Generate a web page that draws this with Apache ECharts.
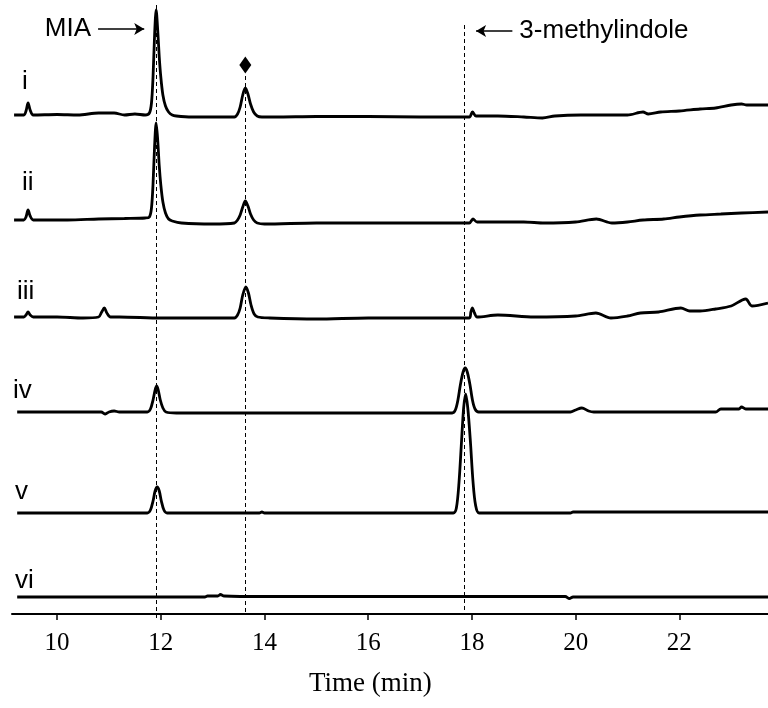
<!DOCTYPE html>
<html>
<head>
<meta charset="utf-8">
<script src="https://cdn.jsdelivr.net/npm/echarts@6/dist/echarts.min.js"></script>
<style>
  html, body { margin: 0; padding: 0; background: #fff; }
  #chart { width: 768px; height: 708px; }
</style>
</head>
<body>
<div id="chart"></div>
<script>
// retention time ticks (min)
var timeTicks = [10, 12, 14, 16, 18, 20, 22];
var traceNames = ["i", "ii", "iii", "iv", "v", "vi"];
// vertical offset of each trace's baseline (arbitrary units)
var traceOffsets = [499, 394, 297, 202, 101, 17];

// [time, signal above baseline]
var traceI = [
  [9.17, 0], [9.36, 0], [9.4, 4], [9.44, 12], [9.48, 5], [9.54, 0], [10.0, 0.5], [10.4, 0], [10.8, 2],
  [11.1, 2], [11.3, 0], [11.5, 1], [11.7, 0], [11.78, 2], [11.82, 12], [11.85, 38], [11.88, 80],
  [11.91, 105], [11.94, 85], [11.97, 58], [12.0, 38], [12.04, 20], [12.09, 9], [12.15, 3], [12.22, 0],
  [12.3, -1], [12.6, -2], [13.0, -2], [13.42, -2], [13.48, 1], [13.53, 8], [13.58, 20], [13.63, 27],
  [13.68, 21], [13.73, 11], [13.79, 3], [13.86, -1], [13.95, -2], [14.2, -2], [15.0, -1.5], [16.0, -1.5],
  [17.0, -2], [17.95, -2], [18.01, 3], [18.08, -1], [18.5, -1], [19.0, -2], [19.36, -3], [19.6, -1],
  [20.1, 0], [20.5, 0], [21.0, 0], [21.3, 3], [21.4, 1], [21.64, 3], [22.0, 4], [22.4, 6], [22.7, 7],
  [23.0, 10], [23.2, 11], [23.3, 10], [23.71, 10]
];
var traceII = [
  [9.17, 0], [9.36, 0], [9.4, 3], [9.44, 10], [9.48, 4], [9.54, 0], [10.2, 0], [10.8, 1], [11.3, 1.5],
  [11.7, 2], [11.78, 3], [11.82, 12], [11.85, 36], [11.88, 74], [11.91, 97], [11.94, 80], [11.97, 54],
  [12.0, 35], [12.04, 18], [12.09, 7], [12.15, 1], [12.22, -1], [12.4, -3], [13.0, -4], [13.42, -3],
  [13.48, 0], [13.53, 5], [13.58, 13], [13.63, 19], [13.68, 14], [13.73, 6], [13.79, 0], [13.86, -3],
  [14.0, -4], [15.0, -3], [16.0, -3], [17.0, -3], [17.95, -3], [18.02, 1], [18.1, -2], [19.0, -2],
  [19.4, -3], [20.0, -2], [20.4, 1], [20.7, -3], [21.0, -2], [21.3, 0], [21.7, 1], [22.0, 3], [22.4, 5],
  [22.8, 6], [23.2, 7], [23.71, 8]
];
var traceIII = [
  [9.17, 0], [9.36, 0], [9.4, 2], [9.44, 5], [9.48, 2], [9.54, 0], [10.0, 0], [10.5, -1], [10.8, 0],
  [10.86, 5], [10.91, 9], [10.96, 4], [11.03, 0], [11.2, 0], [12.0, -1], [13.0, -1], [13.42, -1],
  [13.48, 2], [13.53, 9], [13.58, 22], [13.64, 30], [13.69, 24], [13.74, 12], [13.8, 3], [13.87, 0],
  [14.1, -1], [15.0, -2], [16.0, -1], [17.0, -1], [17.95, -1], [17.98, 5], [18.01, 9], [18.05, 4],
  [18.1, 0], [18.5, 2], [19.2, 0], [20.0, 1], [20.39, 4], [20.68, -1], [21.0, 1], [21.25, 4], [21.6, 5],
  [22.03, 9], [22.2, 6], [22.4, 6], [22.7, 8], [23.0, 11], [23.28, 18], [23.4, 11], [23.71, 14]
];
var traceIV = [
  [9.23, 0], [10.85, 0], [10.93, -2], [11.0, 0], [11.1, 1], [11.2, 0], [11.74, 0], [11.8, 3],
  [11.85, 12], [11.89, 22], [11.92, 26], [11.95, 22], [11.99, 12], [12.04, 4], [12.1, 0], [12.3, -1],
  [13.0, -1], [15.0, -1], [17.62, -1], [17.68, 2], [17.73, 12], [17.78, 28], [17.83, 40], [17.87, 44],
  [17.91, 40], [17.96, 28], [18.01, 12], [18.06, 3], [18.13, 0], [19.9, 0], [20.0, 2], [20.12, 4],
  [20.25, 1], [20.35, 0], [22.7, 0], [22.8, 3], [23.15, 3], [23.2, 5], [23.28, 3], [23.71, 3]
];
var traceV = [
  [9.23, 0], [11.74, 0], [11.8, 3], [11.85, 12], [11.89, 22], [11.93, 26], [11.97, 22], [12.01, 12],
  [12.06, 3], [12.12, 0], [13.9, 0], [13.95, 1], [14.0, 0], [17.64, 0], [17.7, 5], [17.75, 30],
  [17.8, 72], [17.84, 105], [17.88, 119], [17.92, 105], [17.97, 72], [18.02, 32], [18.07, 8],
  [18.14, 0], [19.9, 0], [19.95, 1], [23.71, 1]
];
var traceVI = [
  [9.23, 0], [12.85, 0], [12.9, 1], [13.1, 1], [13.15, 2.5], [13.22, 1], [14.0, 0.5], [19.8, 0.5],
  [19.88, -1.5], [19.95, 0], [23.71, 0]
];
var traces = [traceI, traceII, traceIII, traceIV, traceV, traceVI];

// dashed guide lines: [time, bottom, top]
var guideLines = [[11.92, -4, 609], [13.63, 2, 539], [17.85, 4, 592]];
var diamondMark = [[13.63, 549]];

var chart = echarts.init(document.getElementById("chart"));
var sans = "Liberation Sans";
var serif = "Liberation Serif";

var series = [];
traces.forEach(function (tr, i) {
  series.push({
    name: traceNames[i],
    type: "line",
    data: tr.map(function (p) { return [p[0], p[1] + traceOffsets[i]]; }),
    smooth: 0.3,
    showSymbol: false,
    lineStyle: { color: "#000", width: 2.8 },
    z: 3
  });
});

series.push({
  type: "line",
  data: [],
  z: 2,
  markLine: {
    silent: true,
    symbol: "none",
    label: { show: false },
    lineStyle: { color: "#000", width: 1, type: [4, 3] },
    data: guideLines.map(function (g) {
      return [{ coord: [g[0], g[1]] }, { coord: [g[0], g[2]] }];
    })
  }
});

// annotation arrows
series.push({
  type: "line",
  data: [],
  z: 4,
  markLine: {
    silent: true,
    symbol: ["none", "arrow"],
    symbolSize: [9, 10],
    lineStyle: { color: "#000", width: 1.5, type: "solid" },
    label: {
      show: true,
      position: "start",
      distance: 7,
      color: "#000",
      fontFamily: sans,
      fontSize: 26
    },
    data: [
      [{ coord: [10.79, 585], label: { formatter: "MIA" } }, { coord: [11.68, 585] }],
      [{ coord: [18.78, 583], label: { formatter: "3-methylindole" } }, { coord: [18.08, 583] }]
    ]
  }
});

series.push({
  type: "scatter",
  data: diamondMark,
  symbol: "diamond",
  symbolSize: [12, 17],
  itemStyle: { color: "#000", opacity: 1 },
  z: 4
});

var graphics = [];
var labelPos = [[22, 84], [22, 185], [17, 294], [13, 393], [15, 494], [15, 583]];
traceNames.forEach(function (n, i) {
  graphics.push({
    type: "text",
    left: labelPos[i][0],
    top: labelPos[i][1] - 15,
    style: { text: n, fill: "#000", font: "26px " + sans }
  });
});
graphics.push({
  type: "text",
  left: 309,
  top: 670,
  style: { text: "Time (min)", fill: "#000", font: "27px " + serif }
});

var option = {
  backgroundColor: "#fff",
  animation: false,
  grid: { left: 12, right: 0, top: 0, bottom: 90 },
  xAxis: {
    type: "value",
    min: 9.13,
    max: 23.71,
    axisLine: { onZero: true, lineStyle: { color: "#000", width: 2 } },
    axisTick: { show: true, length: 6, customValues: timeTicks, lineStyle: { color: "#000", width: 1.5 } },
    axisLabel: { customValues: timeTicks, margin: 13, color: "#000", fontFamily: serif, fontSize: 25 },
    splitLine: { show: false }
  },
  yAxis: {
    type: "value",
    min: -4,
    max: 614,
    show: false,
    splitLine: { show: false }
  },
  graphic: graphics,
  series: series
};
chart.setOption(option);
</script>
</body>
</html>
